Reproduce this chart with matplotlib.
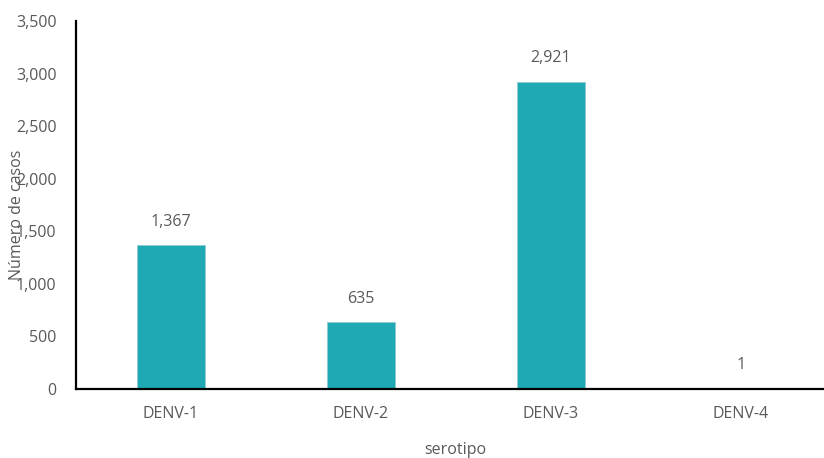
import matplotlib
matplotlib.use("Agg")
from matplotlib import pyplot as plt
from matplotlib.ticker import FuncFormatter

# data
serotypes = ["DENV-1", "DENV-2", "DENV-3", "DENV-4"]
cases = [1367, 635, 2921, 1]
y_ticks = [0, 500, 1000, 1500, 2000, 2500, 3000, 3500]

BAR_COLOR = "#1FA9B5"
TEXT_COLOR = "#595959"
FS = 11.5

plt.rcParams['font.family'] = ['Open Sans', 'DejaVu Sans']

fig = plt.figure(figsize=(8.24, 4.58), dpi=100)
# axes spans slightly past the right edge, like the cropped original
ax = fig.add_axes([76 / 824, 1 - 389 / 458, 760 / 824, 368 / 458])

x = range(len(serotypes))
bars = ax.bar(x, cases, width=0.36, color=BAR_COLOR, edgecolor="#8fc9cf", linewidth=0.5)

for xi, val in zip(x, cases):
    ax.annotate(f"{val:,}", (xi, val), xytext=(0, 17), textcoords="offset points",
                ha="center", va="center", fontsize=FS, color=TEXT_COLOR)

ax.set_xlim(-0.5, len(serotypes) - 0.5)
ax.set_ylim(0, 3500)
ax.set_yticks(y_ticks)
ax.yaxis.set_major_formatter(FuncFormatter(lambda v, p: f"{int(v):,}"))
ax.set_xticks(list(x))
ax.set_xticklabels(serotypes)
ax.tick_params(axis="both", length=0, labelsize=FS, labelcolor=TEXT_COLOR)
ax.tick_params(axis="y", pad=14)
ax.tick_params(axis="x", pad=12)

for s in ["top", "right"]:
    ax.spines[s].set_visible(False)
for s in ["left", "bottom"]:
    ax.spines[s].set_linewidth(1.6)
    ax.spines[s].set_color("black")

# y label sits over the tick labels, as in the original
fig.text(17 / 824, 1 - 215 / 458, "Número de casos", rotation=90, ha="center", va="center",
         fontsize=FS, color=TEXT_COLOR)
fig.text(455 / 824, 1 - 450 / 458, "serotipo", ha="center", va="center",
         fontsize=FS, color=TEXT_COLOR)

fig.savefig("out.png", dpi=100)
